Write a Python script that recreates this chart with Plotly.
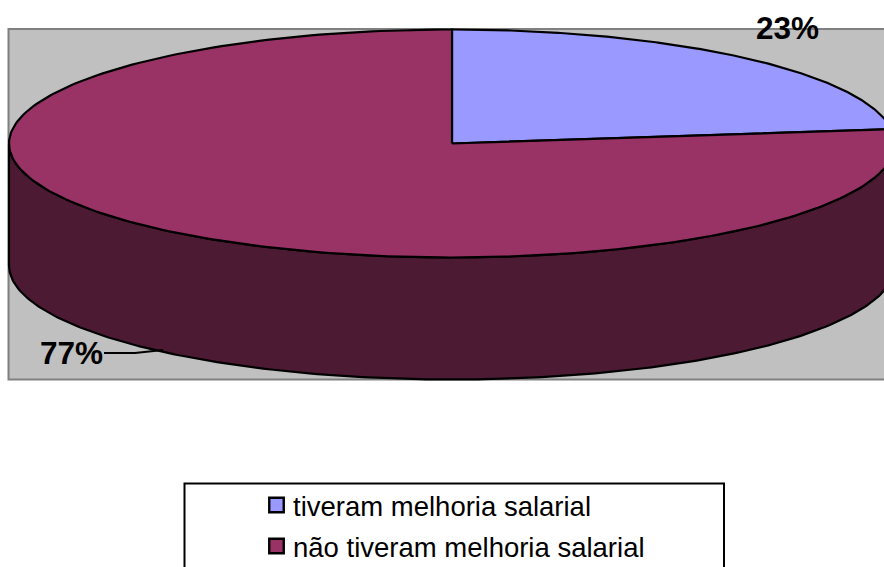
import numpy as np
import plotly.graph_objects as go

categories = ["tiveram melhoria salarial", "não tiveram melhoria salarial"]
values = [23, 77]
top_colors = ["#9999FF", "#993366"]
wall_color = "#4D1A33"

CX, CY, RX, RY, DEPTH = 452, 143.5, 443, 114, 122


def ellipse(a, dy=0.0):
    return CX + RX * np.sin(a), CY + dy - RY * np.cos(a)


fig = go.Figure()

# front wall of the disc: visible lower half of the rim
a = np.linspace(np.pi / 2, 3 * np.pi / 2, 240)
x1, y1 = ellipse(a)
x2, y2 = ellipse(a[::-1], DEPTH)
fig.add_trace(go.Scatter(
    x=np.r_[x1, x2, x1[0]], y=np.r_[y1, y2, y1[0]], mode="lines", fill="toself",
    fillcolor=wall_color, line=dict(color="black", width=2.2),
    hoverinfo="skip", showlegend=False))

# top face slices
cum = np.cumsum([0] + values) / sum(values) * 2 * np.pi
for i, name in enumerate(categories):
    a = np.linspace(cum[i], cum[i + 1], 240)
    ex, ey = ellipse(a)
    fig.add_trace(go.Scatter(
        x=np.r_[CX, ex, CX], y=np.r_[CY, ey, CY], mode="lines", fill="toself",
        fillcolor=top_colors[i], line=dict(color="black", width=2.2),
        name=name, hoverinfo="name", showlegend=False))

# leader line of the large slice
fig.add_trace(go.Scatter(
    x=[104, 135, 163], y=[353, 353, 350], mode="lines",
    line=dict(color="black", width=1.8), hoverinfo="skip", showlegend=False))

# legend swatches
legend_y = [505, 546]
fig.add_trace(go.Scatter(
    x=[276.5, 276.5], y=legend_y, mode="markers",
    marker=dict(symbol="square", size=14.5, color=top_colors,
                line=dict(color="black", width=2.4)),
    hoverinfo="skip", showlegend=False))

annotations = [
    dict(x=787.5, y=28, text=f"<b>{values[0]}%</b>", showarrow=False,
         font=dict(size=31.5, color="black")),
    dict(x=71, y=353, text=f"<b>{values[1]}%</b>", showarrow=False,
         font=dict(size=31.5, color="black")),
]
for name, y in zip(categories, legend_y):
    annotations.append(dict(x=290.5, y=y + 1, text=name, showarrow=False, xanchor="left",
                            font=dict(size=27.5, color="black")))

fig.update_layout(
    width=884, height=567, margin=dict(l=0, r=0, t=0, b=0),
    paper_bgcolor="white", plot_bgcolor="white",
    font=dict(family="Liberation Sans, Arial, sans-serif"),
    xaxis=dict(range=[0, 884], visible=False, fixedrange=True),
    yaxis=dict(range=[567, 0], visible=False, fixedrange=True),
    annotations=annotations,
    shapes=[
        dict(type="rect", layer="below", x0=8.5, y0=29, x1=900, y1=379.5,
             fillcolor="#C0C0C0", line=dict(color="#808080", width=2)),
        dict(type="rect", layer="below", x0=184.5, y0=483.5, x1=724, y1=600,
             fillcolor="white", line=dict(color="black", width=2)),
    ],
)
fig.write_html("out.html", config={"displayModeBar": False},
               post_script="document.body.style.margin='0';document.body.style.overflow='hidden';")
